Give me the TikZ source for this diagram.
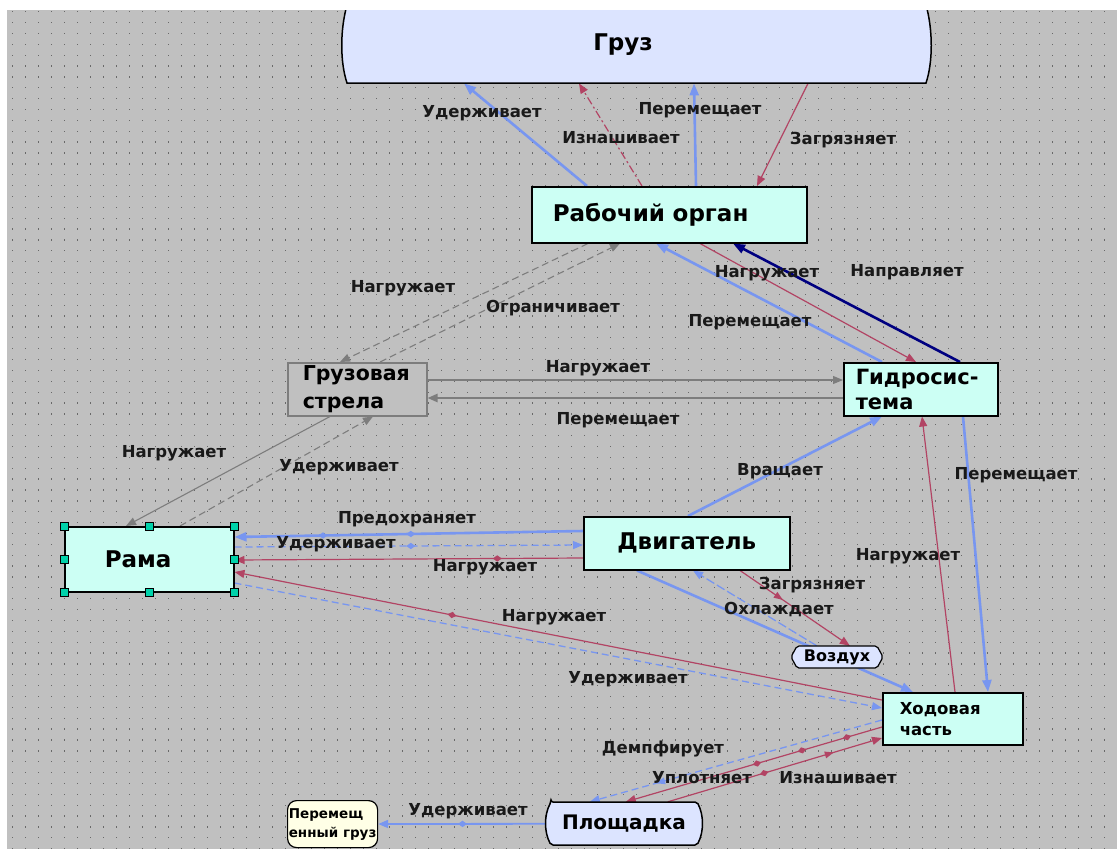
\documentclass[tikz,border=0pt]{standalone}
\usepackage{fontspec}
\setmainfont{DejaVu Sans}
\usetikzlibrary{arrows.meta,calc,decorations.markings}
\definecolor{bg}{RGB}{192,192,192}
\definecolor{dotc}{RGB}{105,105,105}
\definecolor{cyanf}{RGB}{204,255,244}
\definecolor{lav}{RGB}{220,228,255}
\definecolor{yel}{RGB}{255,255,230}
\definecolor{bl}{RGB}{120,150,240}
\definecolor{cr}{RGB}{178,68,100}
\definecolor{gr}{RGB}{125,125,125}
\definecolor{nv}{RGB}{0,0,128}
\definecolor{hdl}{RGB}{0,210,170}
\pgfdeclarelayer{back}
\pgfdeclarelayer{edgelayer}
\pgfsetlayers{back,edgelayer,main}
\begin{document}
\begin{tikzpicture}[x=1pt,y=-1pt,
  box/.style={draw=black, line width=1.5pt, fill=cyanf, anchor=north west, inner ysep=0pt},
  lbl/.style={font=\fontsize{16.5}{19}\selectfont\bfseries, inner sep=0pt, text=black!90},
  blu/.style={color=bl, line width=2.6pt, -{Triangle[length=12pt,width=9pt]}},
  blt/.style={color=bl, line width=1.3pt, -{Triangle[length=10pt,width=8pt]}},
  crm/.style={color=cr, line width=1.2pt, -{Triangle[length=10pt,width=8pt]}},
  gry/.style={color=gr, line width=1.1pt, -{Triangle[length=10pt,width=8pt]}},
  nav/.style={color=nv, line width=2.6pt, -{Triangle[length=12pt,width=9pt]}},
  dsh/.style={dash pattern=on 7pt off 4pt},
  dmd/.style n args={2}{postaction={decorate, decoration={markings, mark=at position #1 with {\fill[fill=#2, draw=none] (-4.5,0)--(0,3.2)--(4.5,0)--(0,-3.2)--cycle;}}}},
  marr/.style n args={2}{postaction={decorate, decoration={markings, mark=at position #1 with {\fill[fill=#2, draw=none] (4,0)--(-5,3.5)--(-5,-3.5)--cycle;}}}},
  hnd/.style={draw=black, line width=0.8pt, fill=hdl, minimum size=8pt, inner sep=0pt},
]
\useasboundingbox (0,0) rectangle (1117,849);
\begin{pgfonlayer}{back}
\fill[white] (0,0) rectangle (1117,849);
\fill[bg] (7,10) rectangle (1117,849);
\foreach \i in {0,...,77} {
  \draw[dotc, line width=1.3pt, dash pattern=on 1.3pt off 11.7pt] (12,{11.7+\i*10.87}) -- (1117,{11.7+\i*10.87});
}
\end{pgfonlayer}

\begin{scope}
\clip (7,10) rectangle (1117,849);
% Груз shape
\draw[fill=lav, line width=1.5pt] (347,83) -- (926,83) .. controls (933,62) and (933,30) .. (926,5) -- (926,-10) -- (347,-10) -- (347,5) .. controls (340,30) and (340,62) .. (347,83) -- cycle;
\node[anchor=north west, minimum width=587pt, minimum height=93pt, inner sep=0pt] (gruz) at (343,-10) {};
\node[font=\fontsize{23}{26}\selectfont\bfseries, inner sep=0pt] (gruzt) at (623,45) {Груз};
\end{scope}

% Площадка shape
\draw[fill=lav, line width=1.5pt, rounded corners=2pt] (551,802) -- (697,802) .. controls (704,815) and (704,832) .. (697,845) -- (551,845) .. controls (544,832) and (544,815) .. (551,802) -- cycle;
\node[minimum width=156pt, minimum height=43pt, inner sep=0pt, font=\fontsize{20}{23}\selectfont\bfseries] (pl) at (624,823.5) {Площадка};

% Воздух shape
\draw[fill=lav, line width=1.2pt, rounded corners=2pt] (797,646) -- (877,646) -- (883,657) -- (877,668) -- (797,668) -- (791,657) -- cycle;
\node[minimum width=92pt, minimum height=22pt, inner sep=0pt, font=\fontsize{16}{19}\selectfont\bfseries] (vz) at (837,657) {Воздух};

% Перемещенный груз
\node[draw=black, line width=1.2pt, fill=yel, rounded corners=9pt, anchor=north west, minimum width=90pt, minimum height=47pt, inner xsep=0pt, inner ysep=0pt, align=left, font=\fontsize{13.5}{19}\selectfont\bfseries] (pg) at (287,800) {Перемещ\\енный груз};

% rectangles
\node[box, minimum width=275pt, minimum height=56pt, inner xsep=21pt, text width=233pt, align=left, font=\fontsize{23}{26}\selectfont\bfseries] (ro) at (531,186) {Рабочий орган};
\node[box, draw=gr, fill=bg, minimum width=139pt, minimum height=53pt, inner xsep=15pt, text width=109pt, align=left, font=\fontsize{20.5}{28}\selectfont\bfseries] (str) at (287,362) {Грузовая\\стрела};
\node[box, minimum width=154pt, minimum height=53pt, inner xsep=12pt, text width=130pt, align=left, font=\fontsize{21}{25}\selectfont\bfseries] (gid) at (843,362) {Гидросис-\\тема};
\node[box, minimum width=169pt, minimum height=65pt, inner xsep=40pt, text width=89pt, align=left, font=\fontsize{23}{26}\selectfont\bfseries] (rama) at (64,526) {Рама};
\node[box, minimum width=206pt, minimum height=53pt, inner xsep=10pt, text width=186pt, align=center, font=\fontsize{23}{26}\selectfont\bfseries] (dv) at (583,516) {Двигатель};
\node[box, minimum width=140pt, minimum height=52pt, inner xsep=17pt, text width=106pt, align=left, font=\fontsize{16.5}{21}\selectfont\bfseries] (hod) at (882,692) {Ходовая\\часть};

% selection handles on Рама
\node[hnd] (h1) at (rama.north west) {};
\node[hnd] (h2) at (rama.north) {};
\node[hnd] (h3) at (rama.north east) {};
\node[hnd] (h4) at (rama.west) {};
\node[hnd] (h5) at (rama.east) {};
\node[hnd] (h6) at (rama.south west) {};
\node[hnd] (h7) at (rama.south) {};
\node[hnd] (h8) at (rama.south east) {};

\begin{pgfonlayer}{edgelayer}
% Рабочий орган <-> Груз
\draw[blu] ($(ro.north west)+(56,0)$) -- ($(gruz.south west)+(121,0)$);
\draw[crm, dash pattern=on 8pt off 3pt on 2pt off 3pt] ($(ro.north west)+(111,0)$) -- ($(gruz.south west)+(236,0)$);
\draw[blu] ($(ro.north west)+(165,0)$) -- ($(gruz.south west)+(351,0)$);
\draw[crm] ($(gruz.south west)+(465,0)$) -- ($(ro.north west)+(226,0)$);
% Рабочий орган <-> стрела
\draw[gry, dsh] ($(ro.south west)+(57,0)$) -- ($(str.north west)+(53,0)$);
\draw[gry, dsh] ($(str.north west)+(93,0)$) -- ($(ro.south west)+(89,0)$);
% Рабочий орган <-> Гидросистема
\draw[blu] ($(gid.north west)+(39,0)$) -- ($(ro.south west)+(125,0)$);
\draw[crm] ($(ro.south west)+(169,0)$) -- ($(gid.north west)+(73,0)$);
\draw[nav] ($(gid.north west)+(117,0)$) -- ($(ro.south west)+(202,0)$);
% стрела <-> Гидросистема
\draw[gry] ($(str.north east)+(0,18)$) -- ($(gid.north west)+(0,18)$);
\draw[gry, line width=2.4pt] ($(gid.north west)+(0,36)$) -- ($(str.north east)+(0,36)$);
% стрела <-> Рама
\draw[gry] ($(str.south west)+(43,0)$) -- ($(rama.north west)+(62,0)$);
\draw[gry, dsh] ($(rama.north west)+(116,0)$) -- ($(str.south west)+(86,0)$);
% Двигатель <-> Рама
\draw[blu, dmd={0.494}{bl}, dmd={0.746}{bl}] ($(dv.north west)+(0,15)$) -- ($(rama.north east)+(0,11)$);
\draw[blt, dsh, dmd={0.506}{bl}] ($(rama.north east)+(0,21)$) -- ($(dv.north west)+(0,29)$);
\draw[crm, dmd={0.246}{cr}] ($(dv.north west)+(0,42)$) -- ($(rama.north east)+(0,34)$);
% Ходовая <-> Рама
\draw[crm, dmd={0.664}{cr}] ($(hod.north west)+(0,8)$) -- ($(rama.north east)+(0,46)$);
\draw[blt, dsh] ($(rama.north east)+(0,57)$) -- ($(hod.north west)+(0,16)$);
% Двигатель -> Ходовая (behind Воздух)
\draw[blu] ($(dv.south west)+(54,0)$) -- ($(hod.north west)+(31,0)$);
% Двигатель -> Гидросистема
\draw[blu] ($(dv.north west)+(105,0)$) -- ($(gid.south west)+(39,0)$);
% Ходовая <-> Гидросистема
\draw[crm] ($(hod.north west)+(73,0)$) -- ($(gid.south west)+(79,0)$);
\draw[blu] ($(gid.south west)+(120,0)$) -- ($(hod.north west)+(106,0)$);
% Двигатель <-> Воздух
\draw[crm, marr={0.36}{cr}] ($(dv.south west)+(157,0)$) -- ($(vz.north west)+(59,0)$);
\draw[blt, dash pattern=on 9pt off 3pt] ($(vz.north west)+(26,0)$) -- ($(dv.south west)+(110,0)$);
% Ходовая <-> Площадка
\draw[blt, dsh, marr={0.76}{bl}] ($(hod.north west)+(0,28)$) -- ($(pl.north west)+(44,0)$);
\draw[crm, dmd={0.137}{cr}, dmd={0.3125}{cr}, dmd={0.488}{cr}] ($(hod.north west)+(0,35)$) -- ($(pl.north west)+(80,0)$);
\draw[crm, marr={0.757}{cr}, dmd={0.45}{cr}] ($(pl.north west)+(122,0)$) -- ($(hod.north west)+(0,46)$);
% Площадка -> Перемещенный груз
\draw[blt, line width=1.8pt, dmd={0.497}{bl}] ($(pl.north west)+(0,22)$) -- ($(pg.north east)+(0,24)$);
\end{pgfonlayer}

% labels
\node[lbl] (l1) at (482,113) {Удерживает};
\node[lbl] (l2) at (621,138) {Изнашивает};
\node[lbl] (l3) at (700,110) {Перемещает};
\node[lbl] (l4) at (843,140) {Загрязняет};
\node[lbl] (l5) at (403,288) {Нагружает};
\node[lbl] (l6) at (553,308) {Ограничивает};
\node[lbl] (l7) at (767,273) {Нагружает};
\node[lbl] (l8) at (907,272) {Направляет};
\node[lbl] (l9) at (750,322) {Перемещает};
\node[lbl] (l10) at (598,368) {Нагружает};
\node[lbl] (l11) at (618,420) {Перемещает};
\node[lbl] (l12) at (174,453) {Нагружает};
\node[lbl] (l13) at (339,467) {Удерживает};
\node[lbl] (l14) at (780,471) {Вращает};
\node[lbl] (l15) at (1016,475) {Перемещает};
\node[lbl] (l16) at (407,519) {Предохраняет};
\node[lbl] (l17) at (336,544) {Удерживает};
\node[lbl] (l18) at (485,567) {Нагружает};
\node[lbl] (l19) at (908,556) {Нагружает};
\node[lbl] (l20) at (812,585) {Загрязняет};
\node[lbl] (l21) at (779,610) {Охлаждает};
\node[lbl] (l22) at (554,617) {Нагружает};
\node[lbl] (l23) at (628,679) {Удерживает};
\node[lbl] (l24) at (663,749) {Демпфирует};
\node[lbl] (l25) at (702,778) {Уплотняет};
\node[lbl] (l26) at (838,778) {Изнашивает};
\node[lbl] (l27) at (468,811) {Удерживает};
\end{tikzpicture}
\end{document}
